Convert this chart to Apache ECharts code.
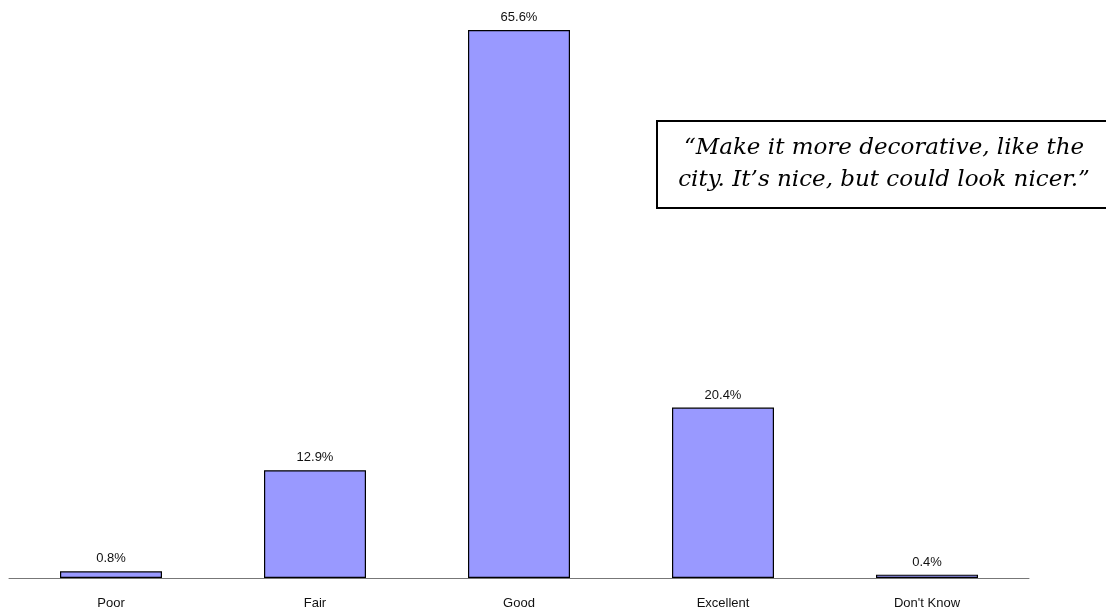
<!DOCTYPE html>
<html><head><meta charset="utf-8">
<script src="https://cdn.jsdelivr.net/npm/echarts@6/dist/echarts.min.js"></script>
<style>html,body{margin:0;padding:0;background:#fff}#c{width:1106px;height:611px}</style>
</head><body><div id="c"></div>
<script>
var categories = ["Poor", "Fair", "Good", "Excellent", "Don't Know"];
var values = [0.8, 12.9, 65.6, 20.4, 0.4];
var quoteLines = ["\u201CMake it more decorative, like the", "city. It\u2019s nice, but could look nicer.\u201D"];

var chart = echarts.init(document.getElementById('c'), null, {renderer: 'canvas'});
chart.setOption({
  animation: false,
  grid: {left: 9, right: 77, top: 30, bottom: 33, containLabel: false},
  xAxis: {
    type: 'category', data: categories,
    axisLine: {lineStyle: {color: '#777', width: 1}},
    axisTick: {show: false},
    axisLabel: {color: '#111', fontFamily: 'Liberation Sans, Arial', fontSize: 13, margin: 19}
  },
  yAxis: {type: 'value', min: 0, max: 65.6, show: false, splitLine: {show: false}},
  series: [{
    type: 'bar', data: values, barWidth: '50%',
    itemStyle: {color: '#9999FF', borderColor: '#000', borderWidth: 1.2},
    label: {show: true, position: 'top', distance: 6, color: '#111', fontFamily: 'Liberation Sans, Arial', fontSize: 13,
      formatter: function(p){ return p.value.toFixed(1) + '%'; }}
  }],
  graphic: [
    {type: 'rect', x: 657, y: 121, shape: {x: 0, y: 0, width: 470, height: 87}, style: {fill: '#fff', stroke: '#000', lineWidth: 2}},
    {type: 'text', x: 884, y: 148, style: {text: quoteLines[0], fill: '#000', font: 'italic 23px "DejaVu Serif"', align: 'center', verticalAlign: 'middle'}},
    {type: 'text', x: 884, y: 180, style: {text: quoteLines[1], fill: '#000', font: 'italic 23px "DejaVu Serif"', align: 'center', verticalAlign: 'middle'}}
  ]
});
</script></body></html>
